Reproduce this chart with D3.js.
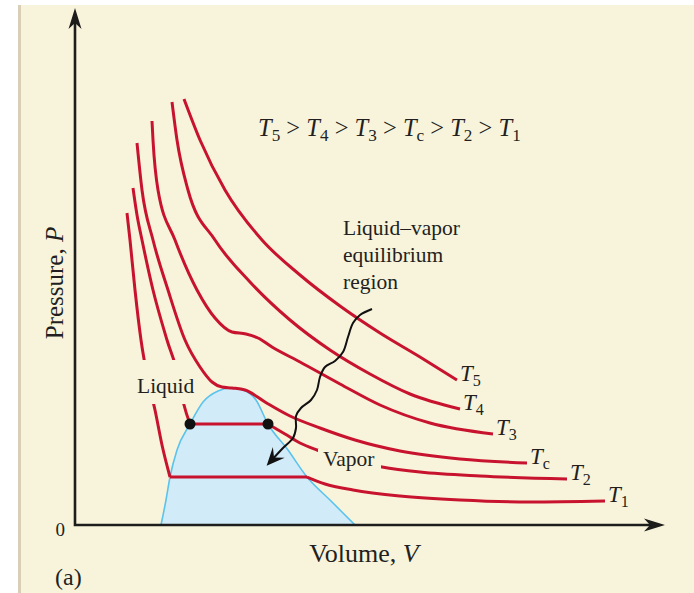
<!DOCTYPE html>
<html>
<head>
<meta charset="utf-8">
<script src="https://cdn.jsdelivr.net/npm/d3@7"></script>
<style>
  html, body { margin: 0; padding: 0; background: #fff; }
  svg { display: block; }
  text { font-family: "Liberation Serif", "DejaVu Serif", serif; fill: #231f20; }
</style>
</head>
<body>
<div id="chart"></div>
<script>
// isotherms, [volume, pressure]
var t5 = [[1.09,4.26],[1.25,3.85],[1.50,3.35],[1.87,2.85],[2.25,2.50],[2.65,2.19],[3.05,1.92],[3.45,1.68],[3.82,1.45]];
var t4 = [[0.97,4.23],[1.02,3.85],[1.13,3.35],[1.40,2.85],[1.75,2.43],[2.15,2.05],[2.55,1.75],[2.95,1.51],[3.35,1.31],[3.85,1.16]];
var t3 = [[0.77,4.04],[0.78,3.85],[0.83,3.35],[1.00,2.85],[1.22,2.35],[1.40,2.07],[1.57,1.93],[1.71,1.91],[1.83,1.87],[1.97,1.78],[2.25,1.63],[2.65,1.41],[3.05,1.20],[3.55,1.02],[4.18,0.91]];
var tc = [[0.62,3.82],[0.67,3.35],[0.78,2.85],[0.93,2.35],[1.10,1.85],[1.25,1.58],[1.37,1.43],[1.47,1.38],[1.57,1.37],[1.70,1.35],[1.90,1.23],[2.15,1.09],[2.45,0.97],[2.80,0.85],[3.25,0.74],[3.85,0.66],[4.52,0.62]];
var t2Liquid = [[0.58,3.37],[0.62,3.10],[0.67,2.85],[0.78,2.35],[0.92,1.85],[1.03,1.50],[1.09,1.20],[1.15,1.01]];
var t2Vapor = [[1.93,1.01],[2.10,0.91],[2.25,0.82],[2.42,0.75],[2.75,0.65],[3.07,0.58],[3.45,0.53],[4.05,0.49],[4.92,0.46]];
var t1Liquid = [[0.52,3.12],[0.55,2.85],[0.60,2.35],[0.66,1.85],[0.73,1.45],[0.80,1.15],[0.87,0.80],[0.95,0.48]];
var t1Vapor = [[2.32,0.48],[2.50,0.41],[2.78,0.35],[3.25,0.29],[3.85,0.25],[4.55,0.23],[5.30,0.24]];

// liquid-vapor coexistence dome
var dome = [[0.86,0],[0.91,0.25],[0.95,0.48],[1.02,0.75],[1.15,1.01],[1.28,1.23],[1.43,1.34],[1.55,1.37],[1.68,1.35],[1.81,1.25],[1.93,1.01],[2.13,0.75],[2.32,0.48],[2.55,0.25],[2.80,0]];

// wavy pointer into the dome
var wiggle = [[2.97,2.16],[2.85,2.10],[2.78,2.02],[2.73,1.88],[2.68,1.73],[2.60,1.64],[2.50,1.58],[2.45,1.48],[2.42,1.35],[2.36,1.25],[2.26,1.17],[2.21,1.09],[2.21,0.97],[2.18,0.87],[2.08,0.77],[1.95,0.63]];

var headerOrder = ["5","4","3","c","2","1"];
var endLabels = [
  {sub: "5", pts: t5},
  {sub: "4", pts: t4},
  {sub: "3", pts: t3},
  {sub: "c", pts: tc},
  {sub: "2", pts: t2Vapor},
  {sub: "1", pts: t1Vapor}
];

var width = 694, height = 593;
var red = "#c8132f";
var cream = "#f8f4dc";
var ink = "#1d1d1b";

var x = d3.scaleLinear().domain([0, 5.9]).range([75, 665]);
var y = d3.scaleLinear().domain([0, 5.17]).range([525, 8]);

var svg = d3.select("#chart").append("svg")
  .attr("width", width)
  .attr("height", height);

// page panel with its tan left edge
svg.append("rect").attr("x", 18).attr("y", 5).attr("width", width - 18).attr("height", height - 5).attr("fill", "#d9ceb6");
svg.append("rect").attr("x", 21).attr("y", 5).attr("width", width - 21).attr("height", height - 5).attr("fill", cream);

var defs = svg.append("defs");
defs.append("marker")
  .attr("id", "axisHead")
  .attr("viewBox", "-24 -8 26 16")
  .attr("refX", -10).attr("refY", 0)
  .attr("markerUnits", "userSpaceOnUse")
  .attr("markerWidth", 26).attr("markerHeight", 16)
  .attr("orient", "auto-start-reverse")
  .append("path")
  .attr("d", "M0,0 L-21,-6.5 L-15,0 L-21,6.5 Z")
  .attr("fill", ink);

defs.append("marker")
  .attr("id", "wigHead")
  .attr("viewBox", "-20 -9 24 18")
  .attr("refX", -5).attr("refY", 0)
  .attr("markerUnits", "userSpaceOnUse")
  .attr("markerWidth", 24).attr("markerHeight", 18)
  .attr("orient", "auto")
  .append("path")
  .attr("d", "M0,0 L-18,-8 L-11,0 L-18,8 Z")
  .attr("fill", "#111");

var smooth = d3.line()
  .x(function(d) { return x(d[0]); })
  .y(function(d) { return y(d[1]); })
  .curve(d3.curveMonotoneX);

var wavy = d3.line()
  .x(function(d) { return x(d[0]); })
  .y(function(d) { return y(d[1]); })
  .curve(d3.curveCatmullRom.alpha(0.5));

var straight = d3.line()
  .x(function(d) { return x(d[0]); })
  .y(function(d) { return y(d[1]); });

// dome
svg.append("path")
  .attr("d", smooth(dome) + "Z")
  .attr("fill", "#d2ebf8")
  .attr("stroke", "#5bc3ec")
  .attr("stroke-width", 1.6);

function drawIso(pts) {
  svg.append("path")
    .attr("d", smooth(pts))
    .attr("fill", "none")
    .attr("stroke", red)
    .attr("stroke-width", 3);
}
function drawPlateau(a, b) {
  svg.append("path")
    .attr("d", straight([a, b]))
    .attr("fill", "none")
    .attr("stroke", red)
    .attr("stroke-width", 3.2);
}

// the two isotherms below Tc, with their flat segment
drawIso(t1Liquid);
drawPlateau(t1Liquid[t1Liquid.length - 1], t1Vapor[0]);
drawIso(t1Vapor);
drawIso(t2Liquid);
drawPlateau(t2Liquid[t2Liquid.length - 1], t2Vapor[0]);
drawIso(t2Vapor);

// knock-outs behind the phase labels
svg.append("rect").attr("x", 134).attr("y", 360).attr("width", 62).attr("height", 44).attr("fill", cream);
svg.append("rect").attr("x", 318).attr("y", 449).attr("width", 63).attr("height", 25).attr("fill", cream);

drawIso(tc);
drawIso(t3);
drawIso(t4);
drawIso(t5);

// end points of the T2 plateau
svg.selectAll(".dot")
  .data([t2Liquid[t2Liquid.length - 1], t2Vapor[0]])
  .enter().append("circle")
  .attr("class", "dot")
  .attr("cx", function(d) { return x(d[0]); })
  .attr("cy", function(d) { return y(d[1]); })
  .attr("r", 5.5)
  .attr("fill", "#111");

svg.append("path")
  .attr("d", wavy(wiggle))
  .attr("fill", "none")
  .attr("stroke", "#111")
  .attr("stroke-width", 2)
  .attr("marker-end", "url(#wigHead)");

// T with subscript
function addT(txt, sub, fs) {
  txt.append("tspan").attr("font-style", "italic").text("T");
  txt.append("tspan").attr("font-size", fs * 0.7).attr("dy", fs * 0.22).text(sub);
}

var head = svg.append("text").attr("x", 258).attr("y", 136).attr("font-size", 24.5);
headerOrder.forEach(function(s, i) {
  if (i > 0) head.append("tspan").attr("dy", -24.5 * 0.22).text("\u00a0>\u00a0");
  addT(head, s, 24.5);
});

endLabels.forEach(function(d) {
  var last = d.pts[d.pts.length - 1];
  var t = svg.append("text")
    .attr("x", x(last[0]) + 3)
    .attr("y", y(last[1]) + 1)
    .attr("font-size", 23);
  addT(t, d.sub, 23);
});

svg.append("text").attr("x", 137).attr("y", 393).attr("font-size", 21.5).text("Liquid");
svg.append("text").attr("x", 323).attr("y", 466).attr("font-size", 21.5).text("Vapor");
var note = svg.append("text").attr("font-size", 21.5);
["Liquid\u2013vapor", "equilibrium", "region"].forEach(function(s, i) {
  note.append("tspan").attr("x", 343).attr("y", 235 + i * 27).text(s);
});

// axes
svg.append("path")
  .attr("d", "M" + x(0) + "," + (y.range()[1] + 10) + "V" + y(0) + "H" + (x.range()[1] - 10))
  .attr("fill", "none")
  .attr("stroke", ink)
  .attr("stroke-width", 2.6)
  .attr("marker-start", "url(#axisHead)")
  .attr("marker-end", "url(#axisHead)");

var yAxis = svg.append("g")
  .attr("transform", "translate(" + x(0) + ",0)")
  .call(d3.axisLeft(y).tickValues([0]).tickFormat(d3.format("d")).tickSize(0).tickPadding(10));
yAxis.select(".domain").remove();
yAxis.selectAll("text")
  .attr("font-family", "Liberation Serif, serif")
  .attr("font-size", 19)
  .attr("fill", "#231f20")
  .attr("dy", "0.55em");

var xTitle = svg.append("text")
  .attr("x", 364).attr("y", 562)
  .attr("text-anchor", "middle")
  .attr("font-size", 26);
xTitle.append("tspan").text("Volume, ");
xTitle.append("tspan").attr("font-style", "italic").text("V");

var yTitle = svg.append("text")
  .attr("transform", "translate(63,283) rotate(-90)")
  .attr("text-anchor", "middle")
  .attr("font-size", 25);
yTitle.append("tspan").text("Pressure, ");
yTitle.append("tspan").attr("font-style", "italic").text("P");

svg.append("text").attr("x", 55).attr("y", 585).attr("font-size", 24).text("(a)");
</script>
</body>
</html>
